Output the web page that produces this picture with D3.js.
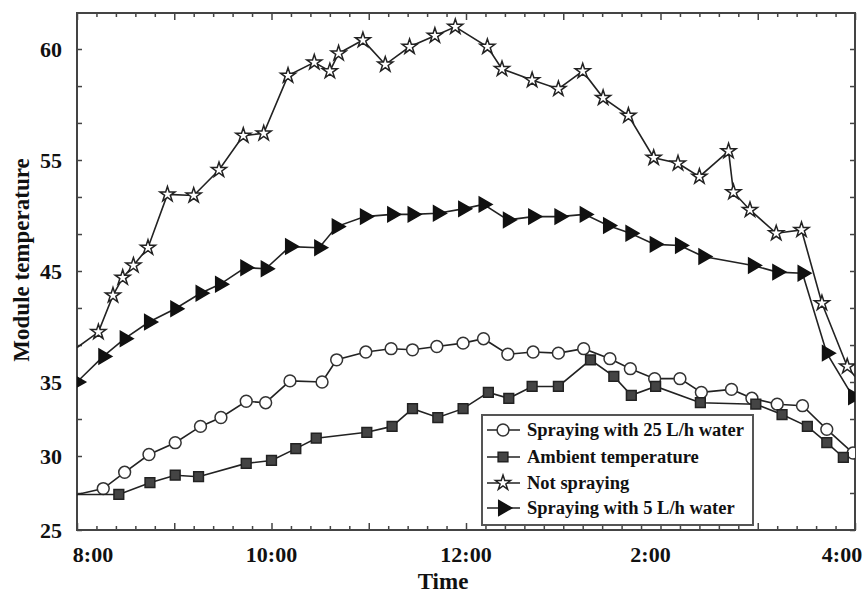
<!DOCTYPE html>
<html>
<head>
<meta charset="utf-8">
<script src="https://cdn.jsdelivr.net/npm/d3@7"></script>
<style>
  body { margin: 0; background: #fff; }
  svg { display: block; }
  text { font-family: "Liberation Serif", "Times New Roman", serif; font-weight: bold; fill: #111; }
</style>
</head>
<body>
<svg id="chart" width="865" height="593"></svg>
<script>
// hours after 8:00 and module temperature
const notSprayingHours = [0, 0.22, 0.37, 0.47, 0.58, 0.73, 0.93, 1.2, 1.46, 1.71, 1.92, 2.17, 2.44, 2.6, 2.69, 2.94, 3.17, 3.42, 3.68, 3.89, 4.22, 4.37, 4.68, 4.95, 5.2, 5.41, 5.67, 5.93, 6.18, 6.4, 6.7, 6.75, 6.92, 7.19, 7.45, 7.66, 7.92, 8];
const notSprayingTemp = [38.1, 39.5, 42.8, 44.4, 45.5, 47.1, 51.9, 51.8, 54.1, 56.1, 56.2, 58.8, 59.4, 59.0, 59.8, 60.4, 59.3, 60.1, 60.6, 61.0, 60.1, 59.1, 58.6, 58.2, 59.0, 57.8, 57.0, 55.1, 54.7, 53.5, 55.4, 52.1, 50.5, 48.4, 48.7, 42.1, 36.4, 35.5];

const spray5Hours = [0, 0.27, 0.49, 0.74, 1.01, 1.27, 1.47, 1.73, 1.94, 2.19, 2.49, 2.67, 2.96, 3.24, 3.45, 3.71, 3.97, 4.18, 4.43, 4.69, 4.96, 5.22, 5.46, 5.69, 5.94, 6.2, 6.44, 6.95, 7.2, 7.46, 7.71, 7.98];
const spray5Temp = [35.0, 37.3, 38.9, 40.4, 41.6, 43.0, 43.8, 45.3, 45.2, 47.2, 47.1, 49.0, 49.9, 50.1, 50.1, 50.2, 50.6, 51.0, 49.6, 49.9, 49.9, 50.1, 49.1, 48.4, 47.4, 47.3, 46.3, 45.5, 44.9, 44.8, 37.6, 34.0];

const spray25Hours = [0, 0.27, 0.49, 0.74, 1.01, 1.27, 1.48, 1.74, 1.94, 2.19, 2.52, 2.67, 2.97, 3.23, 3.45, 3.7, 3.97, 4.18, 4.43, 4.69, 4.95, 5.21, 5.48, 5.69, 5.94, 6.2, 6.42, 6.73, 6.94, 7.2, 7.46, 7.71, 7.98];
const spray25Temp = [27.4, 27.8, 28.9, 30.1, 30.9, 32.0, 32.6, 33.7, 33.6, 35.1, 35.0, 37.0, 37.7, 38.0, 37.9, 38.2, 38.5, 38.9, 37.5, 37.7, 37.6, 38.0, 37.1, 36.2, 35.3, 35.3, 34.3, 34.5, 33.9, 33.5, 33.4, 31.8, 30.2];

const ambientHours = [0, 0.43, 0.75, 1.01, 1.25, 1.74, 2.0, 2.25, 2.46, 2.98, 3.24, 3.45, 3.71, 3.97, 4.23, 4.44, 4.68, 4.95, 5.28, 5.52, 5.7, 5.95, 6.41, 6.98, 7.25, 7.51, 7.71, 7.88];
const ambientTemp = [27.4, 27.4, 28.2, 28.7, 28.6, 29.5, 29.7, 30.5, 31.2, 31.6, 32.0, 33.2, 32.6, 33.2, 34.3, 33.9, 34.7, 34.7, 37.0, 35.5, 34.1, 34.7, 33.6, 33.5, 32.8, 32.0, 30.9, 29.9];

const yTickValues = [25, 30, 35, 45, 55, 60];
const yMinorValues = [27.5, 32.5, 38.33, 41.67, 48.33, 51.67, 56.67, 58.33];
const xTickHours = [0, 2, 4, 6, 8];
const xTickLabels = ["8:00", "10:00", "12:00", "2:00", "4:00"];

// first / last points that sit on the frame carry no marker in the figure
const series = [
  { name: "Spraying with 25 L/h water", hours: spray25Hours, temp: spray25Temp, symbol: d3.symbolCircle, size: 110, fill: "#fff", stroke: "#333", rot: 0, skipFirst: true, skipLast: false },
  { name: "Ambient temperature", hours: ambientHours, temp: ambientTemp, symbol: d3.symbolSquare, size: 95, fill: "#444", stroke: "#222", rot: 0, skipFirst: true, skipLast: false },
  { name: "Not spraying", hours: notSprayingHours, temp: notSprayingTemp, symbol: d3.symbolStar, size: 70, fill: "#fff", stroke: "#222", rot: 0, skipFirst: true, skipLast: true },
  { name: "Spraying with 5 L/h water", hours: spray5Hours, temp: spray5Temp, symbol: d3.symbolTriangle, size: 95, fill: "#111", stroke: "#111", rot: 90, skipFirst: false, skipLast: false }
];

const svg = d3.select("#chart");
const plotLeft = 77, plotRight = 855, plotTop = 13, plotBottom = 530;

const x = d3.scaleLinear().domain([0, 8]).range([plotLeft, plotRight]);
// the printed axis is not evenly spaced, so the scale is piecewise
const y = d3.scaleLinear().domain(yTickValues).range([530, 456, 382, 271, 160, 49]);

svg.append("defs").append("clipPath").attr("id", "plot")
  .append("rect").attr("x", plotLeft).attr("y", plotTop)
  .attr("width", plotRight - plotLeft).attr("height", plotBottom - plotTop);

// ticks on all four sides, pointing inward
const xMinor = d3.range(0, 8.001, 0.2).filter(h => Math.abs(h - Math.round(h)) > 0.01);
const xMajor = d3.range(0, 9, 1);

function tickAxis(axis, pos, vals, size) {
  svg.append("g").attr("transform", pos)
    .call(axis.tickValues(vals).tickSize(size).tickFormat(""))
    .call(g => g.select(".domain").remove())
    .selectAll("line").attr("stroke", "#444").attr("stroke-width", 1.5);
}
tickAxis(d3.axisBottom(x), `translate(0,${plotBottom})`, xMinor, -4);
tickAxis(d3.axisBottom(x), `translate(0,${plotBottom})`, xMajor, -7);
tickAxis(d3.axisTop(x), `translate(0,${plotTop})`, xMinor, -4);
tickAxis(d3.axisTop(x), `translate(0,${plotTop})`, xMajor, -7);
tickAxis(d3.axisLeft(y), `translate(${plotLeft},0)`, yTickValues.concat(yMinorValues), -5);
tickAxis(d3.axisRight(y), `translate(${plotRight},0)`, yTickValues.concat(yMinorValues), -5);

svg.append("rect")
  .attr("x", plotLeft).attr("y", plotTop)
  .attr("width", plotRight - plotLeft).attr("height", plotBottom - plotTop)
  .attr("fill", "none").attr("stroke", "#444").attr("stroke-width", 2);

// tick labels
const xNudge = [16, 0, 0, -10, -13];
svg.append("g").selectAll("text").data(xTickHours).join("text")
  .attr("x", (d, i) => x(d) + xNudge[i]).attr("y", plotBottom + 32)
  .attr("text-anchor", "middle").style("font-size", "22px")
  .text((d, i) => xTickLabels[i]);

svg.append("g").selectAll("text").data(yTickValues).join("text")
  .attr("x", plotLeft - 15).attr("y", d => y(d) + 8)
  .attr("text-anchor", "end").style("font-size", "22px")
  .text(d => d);

svg.append("text").attr("x", 443).attr("y", 589).attr("text-anchor", "middle")
  .style("font-size", "23px").text("Time");
svg.append("text").attr("transform", "translate(29,260) rotate(-90)").attr("text-anchor", "middle")
  .style("font-size", "23px").text("Module temperature");

// series
const line = d3.line().x(d => x(d[0])).y(d => y(d[1]));
const plot = svg.append("g").attr("clip-path", "url(#plot)");

series.forEach(s => {
  const pts = s.hours.map((h, i) => [h, s.temp[i]]);
  plot.append("path").datum(pts).attr("d", line)
    .attr("fill", "none").attr("stroke", "#222").attr("stroke-width", 1.6);
  const marked = pts.slice(s.skipFirst ? 1 : 0, s.skipLast ? -1 : pts.length);
  plot.append("g").selectAll("path").data(marked).join("path")
    .attr("transform", d => `translate(${x(d[0])},${y(d[1])}) rotate(${s.rot})`)
    .attr("d", d3.symbol(s.symbol, s.size))
    .attr("fill", s.fill).attr("stroke", s.stroke).attr("stroke-width", 1.5);
});

// legend
const lg = svg.append("g");
lg.append("rect").attr("x", 482).attr("y", 415).attr("width", 271).attr("height", 110)
  .attr("fill", "#fff").attr("stroke", "#555").attr("stroke-width", 2);
const rowY = [430, 457, 483, 508];
series.forEach((s, i) => {
  lg.append("line").attr("x1", 487).attr("x2", 520).attr("y1", rowY[i]).attr("y2", rowY[i])
    .attr("stroke", "#222").attr("stroke-width", 1.6);
  lg.append("path").attr("transform", `translate(503,${rowY[i]}) rotate(${s.rot})`)
    .attr("d", d3.symbol(s.symbol, s.size))
    .attr("fill", s.fill).attr("stroke", s.stroke).attr("stroke-width", 1.5);
  lg.append("text").attr("x", 527).attr("y", rowY[i] + 6).style("font-size", "18.5px").text(s.name);
});
</script>
</body>
</html>
